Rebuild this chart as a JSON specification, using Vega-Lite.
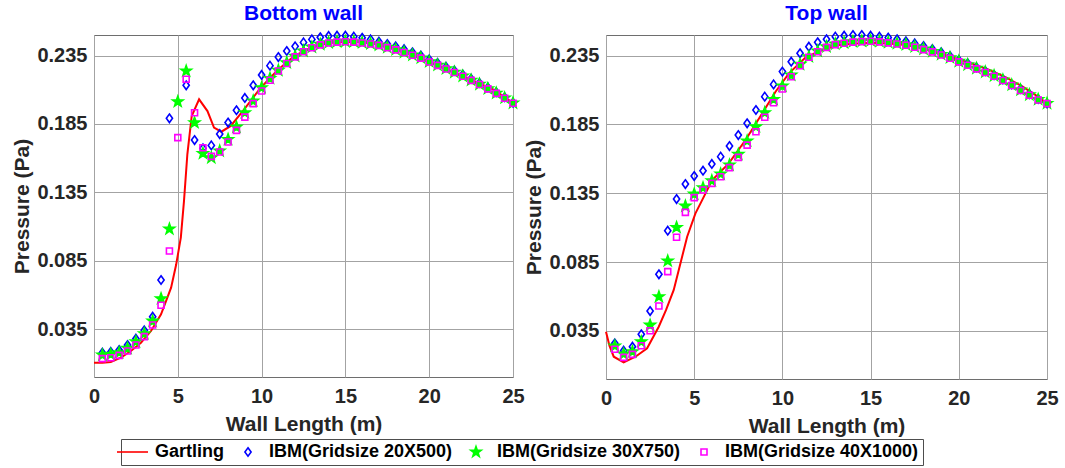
{
  "$schema": "https://vega.github.io/schema/vega-lite/v6.json",
  "background": "white",
  "padding": {"left": 11, "top": 2, "right": 5, "bottom": 0},
  "spacing": -2,
  "datasets": {
    "gart": [
      {"wall": "Bottom", "series": "Gartling", "x": 0, "p": 0.0105},
      {"wall": "Bottom", "series": "Gartling", "x": 0.5, "p": 0.0105},
      {"wall": "Bottom", "series": "Gartling", "x": 1.0, "p": 0.011},
      {"wall": "Bottom", "series": "Gartling", "x": 1.6, "p": 0.0141},
      {"wall": "Bottom", "series": "Gartling", "x": 2.2, "p": 0.019},
      {"wall": "Bottom", "series": "Gartling", "x": 2.8, "p": 0.0251},
      {"wall": "Bottom", "series": "Gartling", "x": 3.4, "p": 0.0336},
      {"wall": "Bottom", "series": "Gartling", "x": 4.0, "p": 0.0458},
      {"wall": "Bottom", "series": "Gartling", "x": 4.6, "p": 0.0653},
      {"wall": "Bottom", "series": "Gartling", "x": 4.9, "p": 0.082},
      {"wall": "Bottom", "series": "Gartling", "x": 5.18, "p": 0.1019},
      {"wall": "Bottom", "series": "Gartling", "x": 5.37, "p": 0.1287},
      {"wall": "Bottom", "series": "Gartling", "x": 5.57, "p": 0.1628},
      {"wall": "Bottom", "series": "Gartling", "x": 5.83, "p": 0.1908},
      {"wall": "Bottom", "series": "Gartling", "x": 6.27, "p": 0.203},
      {"wall": "Bottom", "series": "Gartling", "x": 6.77, "p": 0.1944},
      {"wall": "Bottom", "series": "Gartling", "x": 7.16, "p": 0.1823},
      {"wall": "Bottom", "series": "Gartling", "x": 7.6, "p": 0.1793},
      {"wall": "Bottom", "series": "Gartling", "x": 8.16, "p": 0.1835},
      {"wall": "Bottom", "series": "Gartling", "x": 8.96, "p": 0.1957},
      {"wall": "Bottom", "series": "Gartling", "x": 9.95, "p": 0.2115},
      {"wall": "Bottom", "series": "Gartling", "x": 10.95, "p": 0.2242},
      {"wall": "Bottom", "series": "Gartling", "x": 11.94, "p": 0.2346},
      {"wall": "Bottom", "series": "Gartling", "x": 12.94, "p": 0.2407},
      {"wall": "Bottom", "series": "Gartling", "x": 13.93, "p": 0.2439},
      {"wall": "Bottom", "series": "Gartling", "x": 14.93, "p": 0.2451},
      {"wall": "Bottom", "series": "Gartling", "x": 15.92, "p": 0.2449},
      {"wall": "Bottom", "series": "Gartling", "x": 16.92, "p": 0.2432},
      {"wall": "Bottom", "series": "Gartling", "x": 17.9, "p": 0.2403},
      {"wall": "Bottom", "series": "Gartling", "x": 18.9, "p": 0.236},
      {"wall": "Bottom", "series": "Gartling", "x": 19.9, "p": 0.231},
      {"wall": "Bottom", "series": "Gartling", "x": 20.9, "p": 0.2258},
      {"wall": "Bottom", "series": "Gartling", "x": 21.89, "p": 0.2205},
      {"wall": "Bottom", "series": "Gartling", "x": 22.9, "p": 0.2152},
      {"wall": "Bottom", "series": "Gartling", "x": 23.88, "p": 0.2098},
      {"wall": "Bottom", "series": "Gartling", "x": 25, "p": 0.2003},
      {"wall": "Top", "series": "Gartling", "x": 0, "p": 0.0344},
      {"wall": "Top", "series": "Gartling", "x": 0.2, "p": 0.024},
      {"wall": "Top", "series": "Gartling", "x": 0.44, "p": 0.0162},
      {"wall": "Top", "series": "Gartling", "x": 1.0, "p": 0.0121},
      {"wall": "Top", "series": "Gartling", "x": 1.67, "p": 0.0162},
      {"wall": "Top", "series": "Gartling", "x": 2.33, "p": 0.0223},
      {"wall": "Top", "series": "Gartling", "x": 2.99, "p": 0.038},
      {"wall": "Top", "series": "Gartling", "x": 3.4, "p": 0.05},
      {"wall": "Top", "series": "Gartling", "x": 3.84, "p": 0.0647},
      {"wall": "Top", "series": "Gartling", "x": 4.2, "p": 0.083},
      {"wall": "Top", "series": "Gartling", "x": 4.6, "p": 0.1034},
      {"wall": "Top", "series": "Gartling", "x": 5.07, "p": 0.1204},
      {"wall": "Top", "series": "Gartling", "x": 5.45, "p": 0.13},
      {"wall": "Top", "series": "Gartling", "x": 6.02, "p": 0.1446},
      {"wall": "Top", "series": "Gartling", "x": 6.96, "p": 0.1567},
      {"wall": "Top", "series": "Gartling", "x": 7.91, "p": 0.1737},
      {"wall": "Top", "series": "Gartling", "x": 8.86, "p": 0.1931},
      {"wall": "Top", "series": "Gartling", "x": 9.61, "p": 0.2088},
      {"wall": "Top", "series": "Gartling", "x": 10.37, "p": 0.2221},
      {"wall": "Top", "series": "Gartling", "x": 11.32, "p": 0.2338},
      {"wall": "Top", "series": "Gartling", "x": 12.26, "p": 0.2391},
      {"wall": "Top", "series": "Gartling", "x": 13.21, "p": 0.2427},
      {"wall": "Top", "series": "Gartling", "x": 14.16, "p": 0.2439},
      {"wall": "Top", "series": "Gartling", "x": 15.1, "p": 0.2444},
      {"wall": "Top", "series": "Gartling", "x": 16.05, "p": 0.2439},
      {"wall": "Top", "series": "Gartling", "x": 17.0, "p": 0.2427},
      {"wall": "Top", "series": "Gartling", "x": 17.94, "p": 0.2403},
      {"wall": "Top", "series": "Gartling", "x": 18.9, "p": 0.2368},
      {"wall": "Top", "series": "Gartling", "x": 19.83, "p": 0.233},
      {"wall": "Top", "series": "Gartling", "x": 20.8, "p": 0.229},
      {"wall": "Top", "series": "Gartling", "x": 21.73, "p": 0.2246},
      {"wall": "Top", "series": "Gartling", "x": 22.7, "p": 0.219},
      {"wall": "Top", "series": "Gartling", "x": 23.62, "p": 0.2125},
      {"wall": "Top", "series": "Gartling", "x": 24.3, "p": 0.2068},
      {"wall": "Top", "series": "Gartling", "x": 25, "p": 0.2003}
    ],
    "bottom": [
      {"x": 0.5, "d": 0.0178, "s": 0.0161, "q": 0.0134},
      {"x": 1.0, "d": 0.0183, "s": 0.0166, "q": 0.0141},
      {"x": 1.5, "d": 0.0197, "s": 0.0178, "q": 0.0158},
      {"x": 2.0, "d": 0.0234, "s": 0.021, "q": 0.019},
      {"x": 2.5, "d": 0.028, "s": 0.0258, "q": 0.0234},
      {"x": 3.0, "d": 0.0341, "s": 0.0317, "q": 0.0295},
      {"x": 3.5, "d": 0.0441, "s": 0.0409, "q": 0.038},
      {"x": 4.0, "d": 0.0709, "s": 0.0573, "q": 0.0524},
      {"x": 4.5, "d": 0.1891, "s": 0.1082, "q": 0.0921},
      {"x": 5.0, "d": null, "s": 0.2013, "q": 0.175},
      {"x": 5.5, "d": 0.2132, "s": 0.2237, "q": 0.2176},
      {"x": 6.0, "d": 0.1732, "s": 0.1859, "q": 0.1932},
      {"x": 6.5, "d": 0.1672, "s": 0.1635, "q": 0.1676},
      {"x": 7.0, "d": 0.1693, "s": 0.1603, "q": 0.1613},
      {"x": 7.5, "d": 0.1776, "s": 0.1652, "q": 0.1645},
      {"x": 8.0, "d": 0.186, "s": 0.1737, "q": 0.1718},
      {"x": 8.5, "d": 0.195, "s": 0.1827, "q": 0.1803},
      {"x": 9.0, "d": 0.204, "s": 0.1932, "q": 0.19},
      {"x": 9.5, "d": 0.2132, "s": 0.2018, "q": 0.1998},
      {"x": 10.0, "d": 0.2208, "s": 0.2115, "q": 0.2091},
      {"x": 10.5, "d": 0.2276, "s": 0.2183, "q": 0.2169},
      {"x": 11.0, "d": 0.2339, "s": 0.2242, "q": 0.2237},
      {"x": 11.5, "d": 0.2383, "s": 0.2298, "q": 0.2292},
      {"x": 12.0, "d": 0.2417, "s": 0.2346, "q": 0.234},
      {"x": 12.5, "d": 0.2446, "s": 0.2383, "q": 0.2378},
      {"x": 13.0, "d": 0.2468, "s": 0.2412, "q": 0.2407},
      {"x": 13.5, "d": 0.2483, "s": 0.2432, "q": 0.2428},
      {"x": 14.0, "d": 0.2493, "s": 0.2444, "q": 0.2441},
      {"x": 14.5, "d": 0.2495, "s": 0.2451, "q": 0.2448},
      {"x": 15.0, "d": 0.2495, "s": 0.2454, "q": 0.2451},
      {"x": 15.5, "d": 0.2488, "s": 0.2451, "q": 0.2448},
      {"x": 16.0, "d": 0.248, "s": 0.2444, "q": 0.2441},
      {"x": 16.5, "d": 0.2468, "s": 0.2437, "q": 0.2434},
      {"x": 17.0, "d": 0.2451, "s": 0.2427, "q": 0.2424},
      {"x": 17.5, "d": 0.2434, "s": 0.241, "q": 0.2408},
      {"x": 18.0, "d": 0.2417, "s": 0.2393, "q": 0.2391},
      {"x": 18.5, "d": 0.2396, "s": 0.2374, "q": 0.2372},
      {"x": 19.0, "d": 0.2374, "s": 0.2354, "q": 0.2352},
      {"x": 19.5, "d": 0.235, "s": 0.2333, "q": 0.2331},
      {"x": 20.0, "d": 0.2322, "s": 0.2305, "q": 0.2303},
      {"x": 20.5, "d": 0.2296, "s": 0.228, "q": 0.2278},
      {"x": 21.0, "d": 0.2268, "s": 0.2254, "q": 0.2252},
      {"x": 21.5, "d": 0.224, "s": 0.2228, "q": 0.2226},
      {"x": 22.0, "d": 0.2211, "s": 0.22, "q": 0.2198},
      {"x": 22.5, "d": 0.2181, "s": 0.217, "q": 0.2168},
      {"x": 23.0, "d": 0.215, "s": 0.214, "q": 0.2138},
      {"x": 23.5, "d": 0.2117, "s": 0.2108, "q": 0.2106},
      {"x": 24.0, "d": 0.2082, "s": 0.2075, "q": 0.2073},
      {"x": 24.5, "d": 0.2045, "s": 0.204, "q": 0.2038},
      {"x": 25.0, "d": 0.2005, "s": 0.2003, "q": 0.2001}
    ],
    "top": [
      {"x": 0.5, "d": 0.0259, "s": 0.024, "q": 0.0216},
      {"x": 1.0, "d": 0.0206, "s": 0.0182, "q": 0.0157},
      {"x": 1.5, "d": 0.0235, "s": 0.0199, "q": 0.0179},
      {"x": 2.0, "d": 0.0325, "s": 0.0271, "q": 0.0242},
      {"x": 2.5, "d": 0.0494, "s": 0.0392, "q": 0.0351},
      {"x": 3.0, "d": 0.0761, "s": 0.0598, "q": 0.0531},
      {"x": 3.5, "d": 0.1078, "s": 0.0858, "q": 0.078},
      {"x": 4.0, "d": 0.1308, "s": 0.1102, "q": 0.103},
      {"x": 4.5, "d": 0.1417, "s": 0.1257, "q": 0.1211},
      {"x": 5.0, "d": 0.1475, "s": 0.1344, "q": 0.1318},
      {"x": 5.5, "d": 0.1514, "s": 0.139, "q": 0.1374},
      {"x": 6.0, "d": 0.1563, "s": 0.1441, "q": 0.1422},
      {"x": 6.5, "d": 0.1616, "s": 0.149, "q": 0.147},
      {"x": 7.0, "d": 0.1693, "s": 0.1555, "q": 0.1536},
      {"x": 7.5, "d": 0.1773, "s": 0.1633, "q": 0.1611},
      {"x": 8.0, "d": 0.1858, "s": 0.173, "q": 0.17},
      {"x": 8.5, "d": 0.1955, "s": 0.1834, "q": 0.1797},
      {"x": 9.0, "d": 0.2052, "s": 0.1936, "q": 0.1902},
      {"x": 9.5, "d": 0.2141, "s": 0.2032, "q": 0.2008},
      {"x": 10.0, "d": 0.2234, "s": 0.2129, "q": 0.2108},
      {"x": 10.5, "d": 0.2306, "s": 0.2209, "q": 0.2197},
      {"x": 11.0, "d": 0.2367, "s": 0.2287, "q": 0.2277},
      {"x": 11.5, "d": 0.2415, "s": 0.2343, "q": 0.2338},
      {"x": 12.0, "d": 0.2447, "s": 0.2384, "q": 0.2378},
      {"x": 12.5, "d": 0.2469, "s": 0.2415, "q": 0.241},
      {"x": 13.0, "d": 0.2488, "s": 0.2435, "q": 0.243},
      {"x": 13.5, "d": 0.2495, "s": 0.2444, "q": 0.244},
      {"x": 14.0, "d": 0.25, "s": 0.2452, "q": 0.2448},
      {"x": 14.5, "d": 0.25, "s": 0.2456, "q": 0.2452},
      {"x": 15.0, "d": 0.2495, "s": 0.2459, "q": 0.2455},
      {"x": 15.5, "d": 0.2488, "s": 0.2454, "q": 0.245},
      {"x": 16.0, "d": 0.2481, "s": 0.2447, "q": 0.2443},
      {"x": 16.5, "d": 0.2469, "s": 0.2439, "q": 0.2435},
      {"x": 17.0, "d": 0.2454, "s": 0.243, "q": 0.2426},
      {"x": 17.5, "d": 0.2439, "s": 0.2415, "q": 0.2411},
      {"x": 18.0, "d": 0.242, "s": 0.2398, "q": 0.2394},
      {"x": 18.5, "d": 0.2398, "s": 0.2381, "q": 0.2377},
      {"x": 19.0, "d": 0.2374, "s": 0.2359, "q": 0.2355},
      {"x": 19.5, "d": 0.2347, "s": 0.2335, "q": 0.2331},
      {"x": 20.0, "d": 0.2318, "s": 0.2309, "q": 0.2305},
      {"x": 20.5, "d": 0.2294, "s": 0.2284, "q": 0.228},
      {"x": 21.0, "d": 0.2265, "s": 0.2258, "q": 0.2254},
      {"x": 21.5, "d": 0.2238, "s": 0.2231, "q": 0.2227},
      {"x": 22.0, "d": 0.2209, "s": 0.2204, "q": 0.22},
      {"x": 22.5, "d": 0.2178, "s": 0.2173, "q": 0.2169},
      {"x": 23.0, "d": 0.2141, "s": 0.2137, "q": 0.2133},
      {"x": 23.5, "d": 0.2108, "s": 0.2101, "q": 0.2097},
      {"x": 24.0, "d": 0.2071, "s": 0.2066, "q": 0.2062},
      {"x": 24.5, "d": 0.2035, "s": 0.2032, "q": 0.2028},
      {"x": 25.0, "d": 0.2003, "s": 0.2003, "q": 0.2001}
    ]
  },
  "resolve": {"scale": {"x": "independent", "y": "independent"}},
  "hconcat": [
    {
      "width": 419,
      "height": 342,
      "title": "Bottom wall",
      "layer": [
        {
          "data": {"name": "gart"},
          "transform": [{"filter": "datum.wall === 'Bottom'"}],
          "mark": {"type": "line", "strokeWidth": 2, "clip": false},
          "encoding": {
            "x": {"field": "x", "type": "quantitative", "scale": {"domain": [0, 25], "nice": false}, "axis": {"values": [0, 5, 10, 15, 20, 25], "title": "Wall Length (m)"}},
            "y": {"field": "p", "type": "quantitative", "scale": {"domain": [0, 0.25], "nice": false, "zero": false}, "axis": {"values": [0.035, 0.085, 0.135, 0.185, 0.235], "format": ".3f", "title": "Pressure (Pa)"}},
            "stroke": {"field": "series", "type": "nominal", "scale": {"domain": ["Gartling", "IBM(Gridsize 20X500)", "IBM(Gridsize 30X750)", "IBM(Gridsize 40X1000)"], "range": ["#FF0000", "#0000FF", "#00FF00", "#FF00FF"]}, "legend": {"title": null, "orient": "none", "legendX": 27, "legendY": 404, "direction": "horizontal", "columns": 4}}
          }
        },
        {
          "data": {"name": "bottom"},
          "transform": [
            {"fold": ["d", "s", "q"], "as": ["k", "p"]},
            {"filter": "datum.p != null"},
            {"calculate": "datum.k === 'd' ? 'IBM(Gridsize 20X500)' : datum.k === 's' ? 'IBM(Gridsize 30X750)' : 'IBM(Gridsize 40X1000)'", "as": "series"},
            {"calculate": "datum.k === 'd' ? 1 : datum.k === 's' ? 2 : 3", "as": "ord"}
          ],
          "mark": {"type": "point", "size": 100, "strokeWidth": 1.6, "opacity": 1, "clip": false},
          "encoding": {
            "x": {"field": "x", "type": "quantitative"},
            "y": {"field": "p", "type": "quantitative"},
            "order": {"field": "ord"},
            "stroke": {"field": "series", "type": "nominal"},
            "fill": {"field": "series", "type": "nominal", "scale": {"domain": ["Gartling", "IBM(Gridsize 20X500)", "IBM(Gridsize 30X750)", "IBM(Gridsize 40X1000)"], "range": ["transparent", "transparent", "#00FF00", "transparent"]}, "legend": {"title": null, "orient": "none", "legendX": 27, "legendY": 404, "direction": "horizontal", "columns": 4}},
            "shape": {"field": "series", "type": "nominal", "scale": {"domain": ["Gartling", "IBM(Gridsize 20X500)", "IBM(Gridsize 30X750)", "IBM(Gridsize 40X1000)"], "range": ["M-3.4,0H2.8", "M0,-0.85L0.62,0L0,0.85L-0.62,0Z", "M0,-1.1L0.26,-0.36L1.05,-0.34L0.42,0.14L0.65,0.89L0,0.44L-0.65,0.89L-0.42,0.14L-1.05,-0.34L-0.26,-0.36Z", "M-0.6,-0.6H0.6V0.6H-0.6Z"]}, "legend": {"title": null, "orient": "none", "legendX": 27, "legendY": 404, "direction": "horizontal", "columns": 4}}
          }
        }
      ]
    },
    {
      "width": 441,
      "height": 344,
      "title": "Top wall",
      "layer": [
        {
          "data": {"name": "gart"},
          "transform": [{"filter": "datum.wall === 'Top'"}],
          "mark": {"type": "line", "strokeWidth": 2, "clip": false},
          "encoding": {
            "x": {"field": "x", "type": "quantitative", "scale": {"domain": [0, 25], "nice": false}, "axis": {"values": [0, 5, 10, 15, 20, 25], "title": "Wall Length (m)"}},
            "y": {"field": "p", "type": "quantitative", "scale": {"domain": [0, 0.25], "nice": false, "zero": false}, "axis": {"values": [0.035, 0.085, 0.135, 0.185, 0.235], "format": ".3f", "title": "Pressure (Pa)"}},
            "stroke": {"field": "series", "type": "nominal"}
          }
        },
        {
          "data": {"name": "top"},
          "transform": [
            {"fold": ["d", "s", "q"], "as": ["k", "p"]},
            {"filter": "datum.p != null"},
            {"calculate": "datum.k === 'd' ? 'IBM(Gridsize 20X500)' : datum.k === 's' ? 'IBM(Gridsize 30X750)' : 'IBM(Gridsize 40X1000)'", "as": "series"},
            {"calculate": "datum.k === 'd' ? 1 : datum.k === 's' ? 2 : 3", "as": "ord"}
          ],
          "mark": {"type": "point", "size": 100, "strokeWidth": 1.6, "opacity": 1, "clip": false},
          "encoding": {
            "x": {"field": "x", "type": "quantitative"},
            "y": {"field": "p", "type": "quantitative"},
            "order": {"field": "ord"},
            "stroke": {"field": "series", "type": "nominal"},
            "fill": {"field": "series", "type": "nominal"},
            "shape": {"field": "series", "type": "nominal"}
          }
        }
      ]
    }
  ],
  "config": {
    "font": "Liberation Sans",
    "view": {"stroke": "#6e6e6e", "strokeWidth": 1},
    "title": {"fontSize": 21, "fontWeight": "bold", "color": "#0000FF", "offset": 0, "font": "Liberation Sans"},
    "axis": {
      "labelFont": "Liberation Sans", "labelFontSize": 20, "labelFontWeight": "bold", "labelColor": "#262626",
      "titleFont": "Liberation Sans", "titleFontSize": 21, "titleFontWeight": "bold", "titleColor": "#262626",
      "grid": true, "gridColor": "#a3a3a3", "gridWidth": 1, "domain": false, "ticks": false
    },
    "axisX": {"labelPadding": 9, "titlePadding": 7, "labelFlush": false},
    "axisY": {"labelPadding": 7, "titlePadding": 4},
    "legend": {
      "labelFont": "Liberation Sans", "labelFontSize": 18, "labelFontWeight": "bold", "labelColor": "#000000", "labelLimit": 400,
      "symbolSize": 100, "symbolStrokeWidth": 1.6, "labelOffset": 12, "columnPadding": 14,
      "strokeColor": "#4d4d4d", "fillColor": "white", "padding": 4
    }
  }
}
